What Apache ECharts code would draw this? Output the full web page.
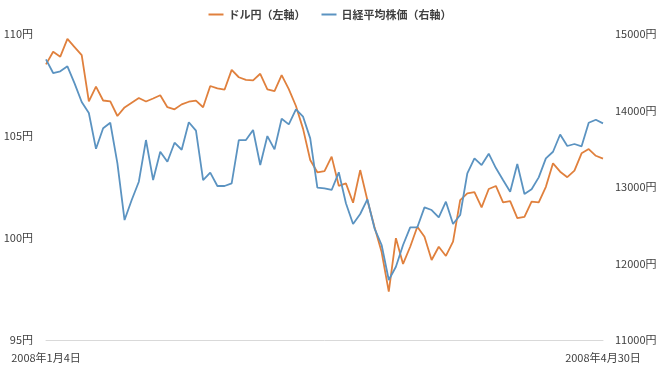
<!DOCTYPE html>
<html>
<head>
<meta charset="utf-8">
<script src="https://cdn.jsdelivr.net/npm/echarts@6/dist/echarts.min.js"></script>
<style>
html,body{margin:0;padding:0;background:#fff;}
#chart{width:660px;height:371px;}
</style>
</head>
<body>
<div id="chart"></div>
<script>
var dates = [
"2008年1月4日","2008年1月7日","2008年1月8日","2008年1月9日","2008年1月10日","2008年1月11日","2008年1月15日","2008年1月16日","2008年1月17日","2008年1月18日",
"2008年1月21日","2008年1月22日","2008年1月23日","2008年1月24日","2008年1月25日","2008年1月28日","2008年1月29日","2008年1月30日","2008年1月31日",
"2008年2月1日","2008年2月4日","2008年2月5日","2008年2月6日","2008年2月7日","2008年2月8日","2008年2月12日","2008年2月13日","2008年2月14日","2008年2月15日",
"2008年2月18日","2008年2月19日","2008年2月20日","2008年2月21日","2008年2月22日","2008年2月25日","2008年2月26日","2008年2月27日","2008年2月28日","2008年2月29日",
"2008年3月3日","2008年3月4日","2008年3月5日","2008年3月6日","2008年3月7日","2008年3月10日","2008年3月11日","2008年3月12日","2008年3月13日","2008年3月14日",
"2008年3月17日","2008年3月18日","2008年3月19日","2008年3月21日","2008年3月24日","2008年3月25日","2008年3月26日","2008年3月27日","2008年3月28日","2008年3月31日",
"2008年4月1日","2008年4月2日","2008年4月3日","2008年4月4日","2008年4月7日","2008年4月8日","2008年4月9日","2008年4月10日","2008年4月11日",
"2008年4月14日","2008年4月15日","2008年4月16日","2008年4月17日","2008年4月18日","2008年4月21日","2008年4月22日","2008年4月23日","2008年4月24日","2008年4月25日",
"2008年4月30日"
];
var usdjpy = [
108.51,109.13,108.89,109.76,109.36,108.96,106.70,107.42,106.74,106.70,
105.98,106.40,106.63,106.86,106.69,106.84,107.00,106.41,106.31,106.55,
106.68,106.73,106.41,107.45,107.33,107.27,108.24,107.88,107.75,107.73,
108.05,107.29,107.20,107.98,107.30,106.47,105.35,103.82,103.22,103.28,
103.99,102.56,102.68,101.73,103.33,101.86,100.54,99.31,97.37,99.99,
98.73,99.57,100.55,100.06,98.92,99.57,99.12,99.82,101.86,102.19,
102.25,101.50,102.40,102.55,101.75,101.81,100.97,101.04,101.78,101.75,
102.51,103.66,103.25,102.98,103.30,104.15,104.36,104.03,103.89
];
var nikkei = [
14669,14490,14512,14577,14355,14111,13967,13499,13767,13840,
13309,12568,12830,13069,13614,13091,13461,13330,13579,13487,
13847,13736,13091,13187,13013,13013,13048,13614,13614,13745,
13287,13666,13492,13892,13819,14015,13919,13636,12991,12983,
12961,13192,12787,12516,12647,12839,12460,12242,11784,11958,
12242,12473,12473,12734,12699,12604,12808,12516,12634,13179,
13375,13287,13435,13248,13091,12938,13300,12908,12970,13126,
13375,13461,13686,13536,13562,13532,13840,13879,13832
];
var leftTicks = {min:95, max:110, interval:5};
var rightTicks = {min:11000, max:15000, interval:1000};

var font = '"Noto Sans CJK JP", "Noto Sans", sans-serif';
var chart = echarts.init(document.getElementById('chart'));
chart.setOption({
  animation:false,
  textStyle:{fontFamily:font},
  legend:{
    top:4, left:'center', itemGap:16, itemWidth:15, itemHeight:2, icon:'rect',
    textStyle:{fontSize:11, fontWeight:'bold', color:'#404040', fontFamily:font},
    data:['ドル円（左軸）','日経平均株価（右軸）']
  },
  grid:{left:46, right:57, top:34, bottom:31, containLabel:false},
  xAxis:{
    type:'category', data:dates, boundaryGap:false,
    axisLine:{lineStyle:{color:'#D9D9D9', width:1}},
    axisTick:{show:false},
    axisLabel:{
      interval:function(i){return i===0 || i===dates.length-1;},
      color:'#404040', fontSize:11, margin:12, fontFamily:font
    }
  },
  yAxis:[
    {type:'value', min:leftTicks.min, max:leftTicks.max, interval:leftTicks.interval,
     axisLine:{show:false}, axisTick:{show:false}, splitLine:{show:false},
     axisLabel:{formatter:function(v){return String(v)+'円';}, color:'#404040', fontSize:11, margin:13, fontFamily:font}},
    {type:'value', min:rightTicks.min, max:rightTicks.max, interval:rightTicks.interval,
     axisLine:{show:false}, axisTick:{show:false}, splitLine:{show:false},
     axisLabel:{formatter:function(v){return String(v)+'円';}, color:'#404040', fontSize:11, margin:12, fontFamily:font}}
  ],
  series:[
    {name:'ドル円（左軸）', type:'line', yAxisIndex:0, data:usdjpy, symbol:'none',
     lineStyle:{color:'#E0803D', width:1.8}, itemStyle:{color:'#E0803D'}},
    {name:'日経平均株価（右軸）', type:'line', yAxisIndex:1, data:nikkei, symbol:'none',
     lineStyle:{color:'#5B93C1', width:1.8}, itemStyle:{color:'#5B93C1'}}
  ]
});
</script>
</body>
</html>
